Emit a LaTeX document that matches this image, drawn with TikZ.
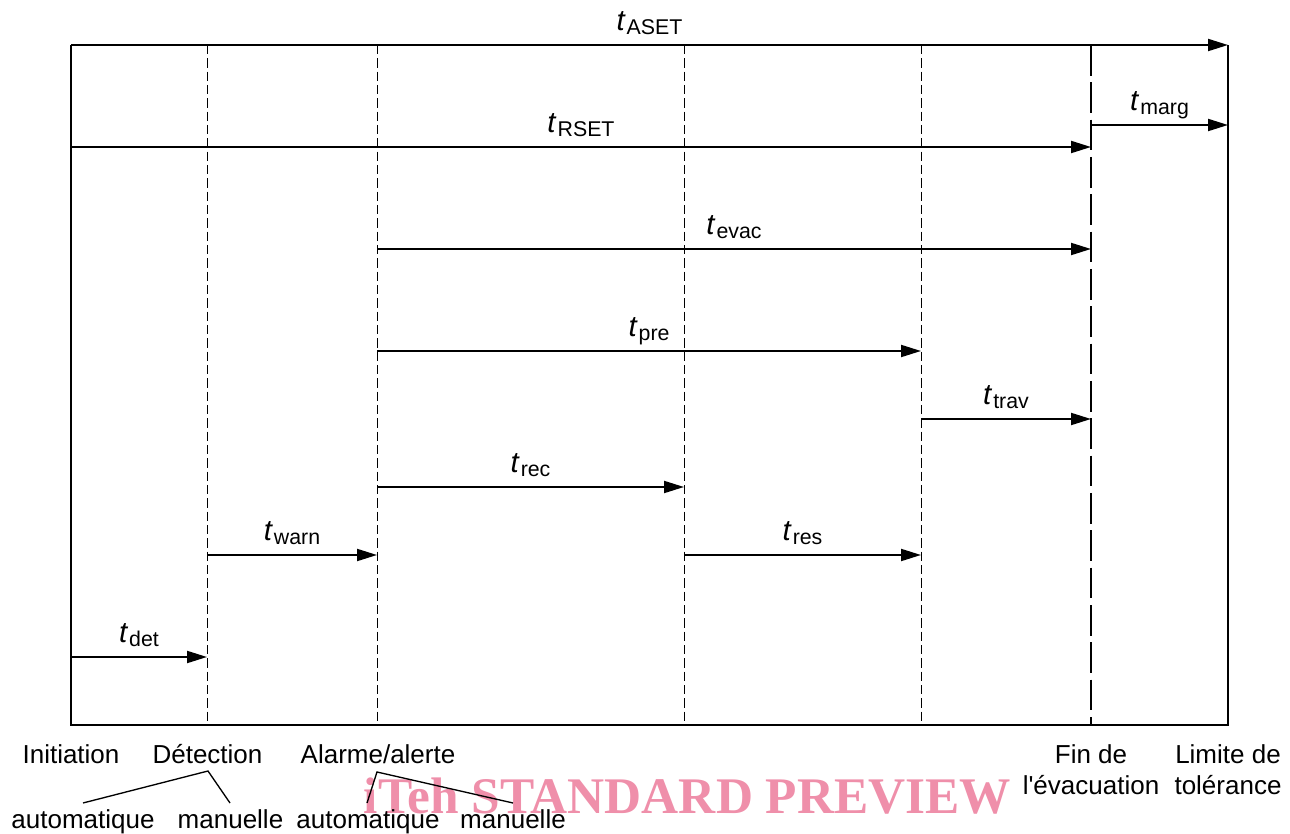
\documentclass[tikz,border=0pt]{standalone}
\usepackage{fontspec}
\setmainfont{Liberation Sans}
\newfontfamily\rawsans{Liberation Sans}[Ligatures=TeXOff]
\newfontfamily\wmfont{Liberation Serif}
\usetikzlibrary{arrows.meta}
\definecolor{wmpink}{RGB}{239,143,170}
\newcommand{\tsub}[1]{{\fontsize{22pt}{24pt}\selectfont\itshape t}\hspace{1.5pt}{\fontsize{16pt}{18pt}\selectfont\raisebox{-3pt}{#1}}}
\begin{document}
\begin{tikzpicture}[x=0.75pt,y=-0.75pt,
  frame/.style={line width=1.5pt},
  thindash/.style={line width=0.75pt, dash pattern=on 7pt off 3pt},
  thickdash/.style={line width=1.6pt, dash pattern=on 23pt off 5pt},
  arr/.style={line width=1.5pt,-{Triangle[length=15pt,width=9pt]}},
  lbl/.style={anchor=base, yshift=11pt, inner sep=0pt},
  txt/.style={anchor=base, inner sep=0pt, font=\fontsize{19.5pt}{23pt}\selectfont},
  br/.style={line width=1pt}]
\useasboundingbox (0,0) rectangle (1290,834);

% watermark
\node[anchor=base, inner sep=0pt, text=wmpink, font=\wmfont\bfseries\fontsize{38.5pt}{40pt}\selectfont] (wm) at (687.5,813) {iTeh STANDARD PREVIEW};

% frame corners
\coordinate (TL) at (71,45);
\coordinate (TR) at (1228,45);
\coordinate (BL) at (71,725);
\coordinate (BR) at (1228,725);

% vertical event lines
\coordinate (Dt) at (207,45);  \coordinate (Db) at (207,725);
\coordinate (At) at (377,45);  \coordinate (Ab) at (377,725);
\coordinate (Rt) at (684,45);  \coordinate (Rb) at (684,725);
\coordinate (Pt) at (921,45);  \coordinate (Pb) at (921,725);
\coordinate (Ft) at (1091,45); \coordinate (Fb) at (1091,725);

\draw[frame] (TL) -- (BL) -- (BR) -- (TR);
\draw[thindash] (Dt) -- (Db);
\draw[thindash] (At) -- (Ab);
\draw[thindash] (Rt) -- (Rb);
\draw[thindash] (Pt) -- (Pb);
\draw[thickdash] (Ft) -- (Fb);

% arrow end points
\coordinate (rs0) at (71,147);   \coordinate (rs1) at (1091,147);
\coordinate (mg0) at (1091,125); \coordinate (mg1) at (1228,125);
\coordinate (ev0) at (377,249);  \coordinate (ev1) at (1091,249);
\coordinate (pr0) at (377,351);  \coordinate (pr1) at (921,351);
\coordinate (tr0) at (921,419);  \coordinate (tr1) at (1091,419);
\coordinate (rc0) at (377,487);  \coordinate (rc1) at (684,487);
\coordinate (wn0) at (207,555);  \coordinate (wn1) at (377,555);
\coordinate (re0) at (684,555);  \coordinate (re1) at (921,555);
\coordinate (dt0) at (71,657);   \coordinate (dt1) at (207,657);

\draw[arr] (TL) -- node[lbl] (lASET) {\tsub{ASET}} (TR);
\draw[arr] (rs0) -- node[lbl] (lRSET) {\tsub{RSET}} (rs1);
\draw[arr] (mg0) -- node[lbl] (lmarg) {\tsub{marg}} (mg1);
\draw[arr] (ev0) -- node[lbl] (levac) {\tsub{evac}} (ev1);
\draw[arr] (pr0) -- node[lbl] (lpre) {\tsub{pre}} (pr1);
\draw[arr] (tr0) -- node[lbl] (ltrav) {\tsub{trav}} (tr1);
\draw[arr] (rc0) -- node[lbl] (lrec) {\tsub{rec}} (rc1);
\draw[arr] (wn0) -- node[lbl] (lwarn) {\tsub{warn}} (wn1);
\draw[arr] (re0) -- node[lbl] (lres) {\tsub{res}} (re1);
\draw[arr] (dt0) -- node[lbl] (ldet) {\tsub{det}} (dt1);

% bottom texts
\node[txt] (init) at (71,763) {Initiation};
\node[txt] (detc) at (207.5,763) {Détection};
\node[txt] (alar) at (378,763) {Alarme/alerte};
\node[txt] (fin1) at (1091,763) {Fin de};
\node[txt] (fin2) at (1091,794) {l{\rawsans '}évacuation};
\node[txt] (lim1) at (1228,763) {Limite de};
\node[txt] (lim2) at (1228,794) {tolérance};
\node[txt] (dauto) at (83,828) {automatique};
\node[txt] (dman) at (230.5,828) {manuelle};
\node[txt] (aauto) at (368,828) {automatique};
\node[txt] (aman) at (513,828) {manuelle};

% branch lines
\coordinate (dap) at (208,771);
\coordinate (dl) at (83,803);
\coordinate (dr) at (230,803);
\coordinate (aap) at (377,772);
\coordinate (al) at (367,803);
\coordinate (ar) at (513,803);
\draw[br] (dl) -- (dap) -- (dr);
\draw[br] (al) -- (aap) -- (ar);
\end{tikzpicture}
\end{document}
